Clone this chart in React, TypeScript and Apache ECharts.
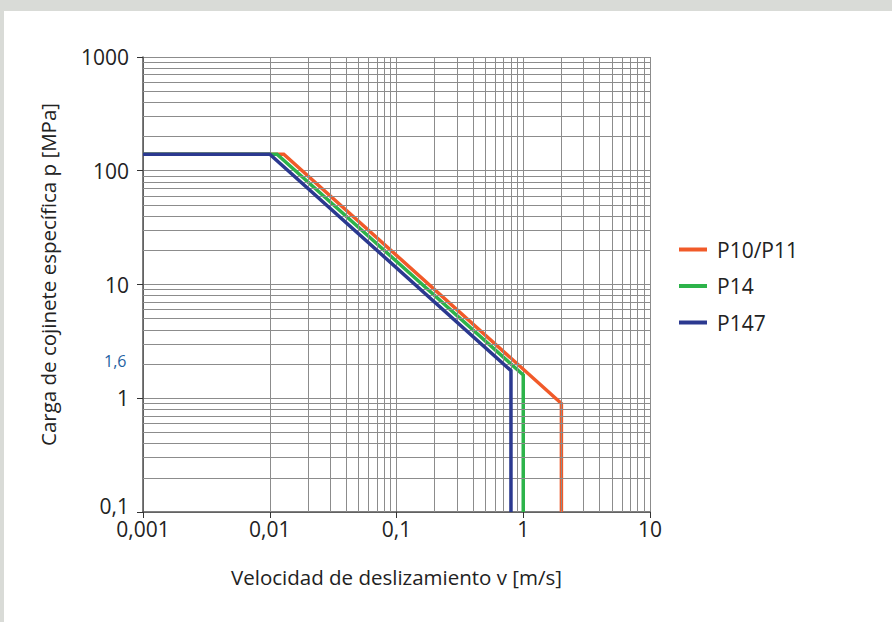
import React, { useEffect, useRef } from "react";
import * as echarts from "echarts";

const seriesNames = ["P10/P11", "P14", "P147"];
const seriesColors = ["#f15a29", "#2db34a", "#2b3990"];
const p10Data = [[0.001, 140], [0.0129, 140], [2, 0.9], [2, 0.1]];
const p14Data = [[0.001, 140], [0.0114, 140], [1, 1.6], [1, 0.1]];
const p147Data = [[0.001, 140], [0.01, 140], [0.8, 1.75], [0.8, 0.1]];
const xTickLabels = ["0,001", "0,01", "0,1", "1", "10"];
const yTickLabels = ["0,1", "1", "10", "100", "1000"];
const xMin = 0.001, xMax = 10, yMin = 0.1, yMax = 1000;
const markText = "1,6";

function minorValues(lo: number, hi: number) {
  const out: number[] = [];
  for (let d = lo; d < hi * 0.999; d *= 10) {
    for (let k = 2; k <= 9; k++) out.push(d * k);
  }
  return out;
}

export default function App() {
  const ref = useRef<HTMLDivElement>(null);
  useEffect(() => {
    const chart = echarts.init(ref.current!, null, { renderer: "svg" });
    const font = "Open Sans";
    const gridColor = "#8c8c8c";
    const minorLines = [
      ...minorValues(xMin, xMax).map((v) => ({ xAxis: v })),
      ...minorValues(yMin, yMax).map((v) => ({ yAxis: v })),
    ];
    const xl = Math.log10(xMin), yl = Math.log10(yMin);
    chart.setOption({
      animation: false,
      backgroundColor: "#ffffff",
      textStyle: { fontFamily: font },
      graphic: [
        { type: "rect", z: -10, shape: { x: 0, y: 0, width: 892, height: 11 }, style: { fill: "#d9dbd7" } },
        { type: "rect", z: -10, shape: { x: 0, y: 0, width: 4, height: 622 }, style: { fill: "#d9dbd7" } },
        {
          type: "text", left: 104, top: 353,
          style: { text: markText, fill: "#1e62a2", font: `16px "${font}"` },
        },
      ],
      grid: { left: 143, right: 242, top: 57, bottom: 110, containLabel: false },
      legend: {
        orient: "vertical",
        left: 674,
        top: 234,
        itemWidth: 28,
        itemHeight: 4,
        itemGap: 15.5,
        icon: "rect",
        data: seriesNames,
        textStyle: { fontFamily: font, fontSize: 21, color: "#222", padding: [0, 0, 0, 5] },
      },
      xAxis: {
        type: "log",
        logBase: 10,
        min: xMin,
        max: xMax,
        name: "Velocidad de deslizamiento v [m/s]",
        nameLocation: "middle",
        nameGap: 54,
        nameTextStyle: { fontFamily: font, fontSize: 20.5, color: "#222" },
        axisLine: { lineStyle: { color: "#555", width: 1.5 } },
        axisTick: { show: true, length: 6, lineStyle: { color: "#333" } },
        axisLabel: {
          fontFamily: font, fontSize: 21, color: "#222", margin: 6,
          formatter: (v: number) => xTickLabels[Math.round(Math.log10(v) - xl)] ?? "",
        },
        splitLine: { show: true, lineStyle: { color: gridColor, width: 1 } },
      },
      yAxis: {
        type: "log",
        logBase: 10,
        min: yMin,
        max: yMax,
        name: "Carga de cojinete específica p [MPa]",
        nameLocation: "middle",
        nameGap: 85,
        nameTextStyle: { fontFamily: font, fontSize: 20.5, color: "#222", padding: [0, 0, 0, 20] },
        axisLine: { lineStyle: { color: "#555", width: 1.5 } },
        axisTick: { show: true, length: 6, lineStyle: { color: "#333" } },
        axisLabel: {
          fontFamily: font, fontSize: 21, color: "#222", margin: 14,
          formatter: (v: number) => {
            const i = Math.round(Math.log10(v) - yl);
            const t = yTickLabels[i] ?? "";
            return i === 0 ? `{lo|${t}}` : t;
          },
          rich: { lo: { fontFamily: font, fontSize: 21, color: "#222", padding: [0, 0, 12, 0] } },
        },
        splitLine: { show: true, lineStyle: { color: gridColor, width: 1 } },
      },
      series: [
        {
          type: "line",
          name: "__grid",
          data: [],
          z: 1,
          silent: true,
          markLine: {
            silent: true,
            symbol: "none",
            label: { show: false },
            lineStyle: { color: gridColor, width: 1, type: "solid" },
            emphasis: { disabled: true },
            data: minorLines,
          },
        },
        ...[p10Data, p14Data, p147Data].map((d, i) => ({
          type: "line",
          name: seriesNames[i],
          data: d,
          z: 3 + i,
          symbol: "none",
          color: seriesColors[i],
          lineStyle: { color: seriesColors[i], width: 3.5, join: "miter" },
        })),
      ],
    });
    return () => chart.dispose();
  }, []);
  return (
    <div
      ref={ref}
      style={{ position: "fixed", left: 0, top: 0, width: 892, height: 622 }}
    />
  );
}
